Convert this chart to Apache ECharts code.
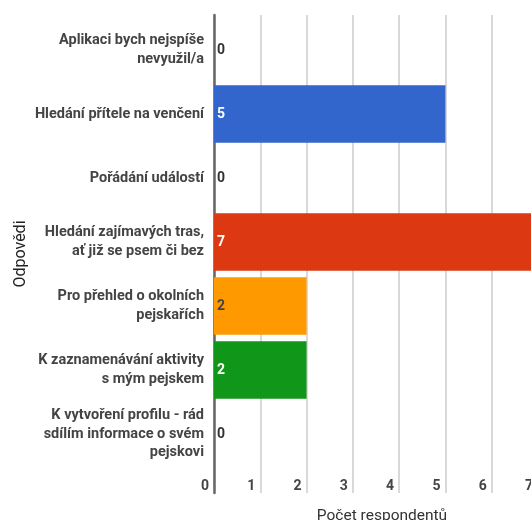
<!DOCTYPE html>
<html><head><meta charset="utf-8">
<script src="https://cdn.jsdelivr.net/npm/echarts@6/dist/echarts.min.js"></script>
<style>html,body{margin:0;padding:0;background:#fff}#c{width:531px;height:520px}</style>
</head><body><div id="c"></div>
<script>
const categories = [
  "Aplikaci bych nejspíše\nnevyužil/a",
  "Hledání přítele na venčení",
  "Pořádání událostí",
  "Hledání zajímavých tras,\nať již se psem či bez",
  "Pro přehled o okolních\npejskařích",
  "K zaznamenávání aktivity\ns mým pejskem",
  "K vytvoření profilu - rád\nsdílím informace o svém\npejskovi"
];
const values = [0, 5, 0, 7, 2, 2, 0];
const barColors = ["#3366cc", "#3366cc", "#3366cc", "#dc3912", "#ff9900", "#109618", "#3366cc"];
const labelColors = ["#333333", "#ffffff", "#333333", "#ffffff", "#444444", "#ffffff", "#333333"];
const xTicks = [0, 1, 2, 3, 4, 5, 6, 7];
const xTitle = "Počet respondentů";
const yTitle = "Odpovědi";

const font = "Roboto, Arial, sans-serif";
const chart = echarts.init(document.getElementById('c'), null, {renderer: 'canvas'});
chart.setOption({
  animation: false,
  grid: [
    {left: 214, width: 324, top: 15, bottom: 27, containLabel: false, outerBoundsMode: 'none'},
    {left: 214, width: 324, top: 18, bottom: 54, containLabel: false, outerBoundsMode: 'none'}
  ],
  xAxis: [
    {
      gridIndex: 0, type: 'value', min: xTicks[0], max: xTicks[xTicks.length - 1], interval: 1,
      name: xTitle, nameLocation: 'middle', nameGap: 15,
      nameTextStyle: {fontFamily: font, fontSize: 15.5, color: '#333', padding: [0, 0, 0, 12]},
      axisLine: {show: false}, axisTick: {show: false},
      splitLine: {show: true, lineStyle: {color: '#cccccc', width: 1.5}},
      axisLabel: {inside: true, margin: 0, align: 'right', padding: [0, 5, 0, 0],
        fontFamily: font, fontSize: 14, fontWeight: 'bold', color: '#444'}
    },
    {
      gridIndex: 1, type: 'value', min: 0, max: 7, interval: 1, show: false
    }
  ],
  yAxis: [
    {
      gridIndex: 0, type: 'category', data: ['a'],
      axisLine: {show: true, lineStyle: {color: '#666666', width: 2.5}},
      axisTick: {show: false}, axisLabel: {show: false}, splitLine: {show: false},
      name: yTitle, nameLocation: 'middle', nameGap: 185,
      nameTextStyle: {fontFamily: font, fontSize: 16, color: '#222'}
    },
    {
      gridIndex: 1, type: 'category', data: categories, inverse: true,
      axisLine: {show: false}, axisTick: {show: false},
      axisLabel: {margin: 10, fontFamily: font, fontSize: 14.5, fontWeight: 'bold', color: '#444', lineHeight: 18.5, align: 'right'}
    }
  ],
  series: [{
    type: 'bar', xAxisIndex: 1, yAxisIndex: 1,
    data: values.map((v, i) => ({value: v, itemStyle: {color: barColors[i]},
      label: {color: labelColors[i]}})),
    barCategoryGap: '10%',
    label: {show: true, position: 'insideLeft', distance: 3, fontFamily: font, fontSize: 14, fontWeight: 'bold'}
  }]
});
</script></body></html>
